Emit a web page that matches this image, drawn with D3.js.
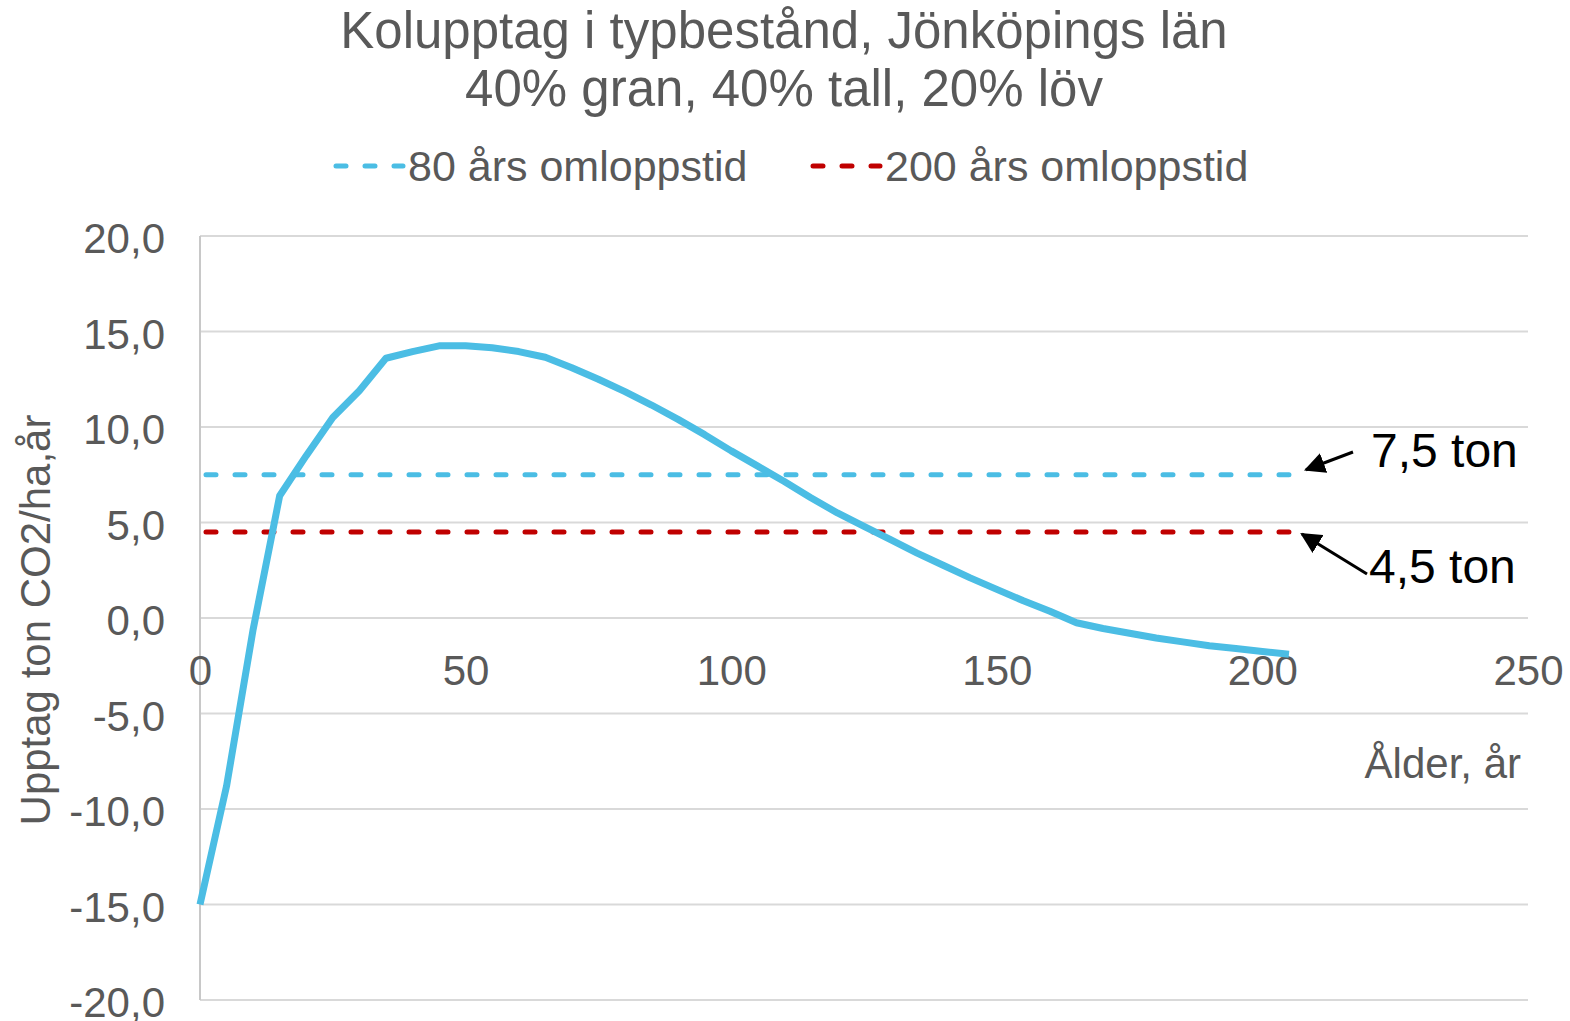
<!DOCTYPE html>
<html><head><meta charset="utf-8">
<script src="https://cdn.jsdelivr.net/npm/d3@7/dist/d3.min.js"></script>
<style>
html,body{margin:0;padding:0;background:#fff;}
svg{display:block;font-family:"Liberation Sans",Arial,sans-serif;}
</style></head>
<body>
<svg id="chart" width="1570" height="1021"></svg>
<script>
const titleLines = ["Kolupptag i typbestånd, Jönköpings län", "40% gran, 40% tall, 20% löv"];
const ages = [0,5,10,15,20,25,30,35,40,45,50,55,60,65,70,75,80,85,90,95,100,105,110,115,120,125,130,135,140,145,150,155,160,165,170,175,180,185,190,195,200,205];
const uptake = [-15.0,-8.8,-0.6,6.4,8.5,10.5,11.9,13.6,13.95,14.25,14.25,14.15,13.95,13.65,13.1,12.5,11.85,11.15,10.4,9.6,8.75,7.95,7.15,6.3,5.5,4.8,4.1,3.4,2.75,2.1,1.5,0.9,0.35,-0.25,-0.55,-0.8,-1.05,-1.25,-1.45,-1.6,-1.75,-1.9];
const refNames = ["80 års omloppstid", "200 års omloppstid"];
const refValues = [7.5, 4.5];
const refLabels = ["7,5 ton", "4,5 ton"];
const refRange = [0, 205];
const xTicks = [0,50,100,150,200,250];
const yTicks = [-20,-15,-10,-5,0,5,10,15,20];
const xTitle = "Ålder, år";
const yTitle = "Upptag ton CO2/ha,år";

const refColors = ["#4BBDE4", "#C00000"];
const lineColor = "#4BBDE4";
const textColor = "#595959";

const svg = d3.select("#chart");
const x = d3.scaleLinear().domain([0,250]).range([200,1528]);
const y = d3.scaleLinear().domain([-20,20]).range([1000,236]);
const loc = d3.formatLocale({decimal:",", thousands:" ", grouping:[3], currency:["",""], minus:"-"});
const fmt = loc.format(".1f");

svg.append("defs").append("marker").attr("id","arr").attr("viewBox","0 0 10 10")
  .attr("refX",9).attr("refY",5).attr("markerWidth",7).attr("markerHeight",7)
  .attr("markerUnits","strokeWidth").attr("orient","auto")
  .append("path").attr("d","M0,0 L10,5 L0,10 z").attr("fill","#000");

// title
svg.append("g").selectAll("text").data(titleLines).join("text")
  .attr("x",784).attr("y",(d,i)=>48+i*58).attr("text-anchor","middle")
  .attr("font-size",51).attr("fill",textColor).text(d=>d);

// legend
const legX = [331, 808];
const leg = svg.append("g").selectAll("g").data(refNames).join("g")
  .attr("transform",(d,i)=>`translate(${legX[i]},166)`);
leg.append("line").attr("x1",5).attr("x2",72).attr("y1",0).attr("y2",0)
  .attr("stroke",(d,i)=>refColors[i]).attr("stroke-width",5)
  .attr("stroke-linecap","round").attr("stroke-dasharray","10,19");
leg.append("text").attr("x",77).attr("y",15).attr("font-size",43).attr("fill",textColor).text(d=>d);

// gridlines
svg.append("g").selectAll("line").data(yTicks).join("line")
  .attr("x1",200).attr("x2",1528).attr("y1",d=>y(d)).attr("y2",d=>y(d))
  .attr("stroke","#d9d9d9").attr("stroke-width",2);
svg.append("line").attr("x1",200).attr("x2",200).attr("y1",236).attr("y2",1000)
  .attr("stroke","#c8c8c8").attr("stroke-width",2);

// y tick labels
const yAxis = d3.axisLeft(y).tickValues(yTicks).tickFormat(fmt).tickSize(0).tickPadding(35);
const gy = svg.append("g").attr("transform","translate(200,0)").call(yAxis);
gy.select(".domain").remove();
gy.selectAll("text").attr("font-size",42).attr("fill",textColor).attr("font-family","Liberation Sans, Arial, sans-serif").attr("dy","0.4em");

// x tick labels
const xAxis = d3.axisBottom(x).tickValues(xTicks).tickFormat(d3.format("d")).tickSize(0).tickPadding(0);
const gx = svg.append("g").attr("transform",`translate(0,${y(0)})`).call(xAxis);
gx.select(".domain").remove();
gx.selectAll("text").attr("font-size",42).attr("fill",textColor).attr("font-family","Liberation Sans, Arial, sans-serif").attr("dy","1.6em");

// axis titles
svg.append("text").attr("x",1521).attr("y",778).attr("text-anchor","end")
  .attr("font-size",42).attr("fill",textColor).text(xTitle);
svg.append("text").attr("transform","translate(50,620) rotate(-90)").attr("text-anchor","middle")
  .attr("font-size",42).attr("fill",textColor).text(yTitle);

// reference lines
svg.append("g").selectAll("line").data(refValues).join("line")
  .attr("x1",x(refRange[0])+6).attr("x2",x(refRange[1])).attr("y1",d=>y(d)).attr("y2",d=>y(d))
  .attr("stroke",(d,i)=>refColors[i]).attr("stroke-width",5)
  .attr("stroke-linecap","round").attr("stroke-dasharray","10,19");

// main curve
const line = d3.line().x(d=>x(d[0])).y(d=>y(d[1]));
svg.append("path").datum(ages.map((a,i)=>[a,uptake[i]]))
  .attr("d",line).attr("fill","none").attr("stroke",lineColor).attr("stroke-width",7)
  .attr("stroke-linejoin","round");

// annotations
const annStart = [[1353,452],[1367,574]];
const annEnd = [[x(refRange[1])+17, y(refValues[0])-5],[x(refRange[1])+13, y(refValues[1])+2]];
svg.append("g").selectAll("line").data(refValues).join("line")
  .attr("x1",(d,i)=>annStart[i][0]).attr("y1",(d,i)=>annStart[i][1])
  .attr("x2",(d,i)=>annEnd[i][0]).attr("y2",(d,i)=>annEnd[i][1])
  .attr("stroke","#000").attr("stroke-width",3).attr("marker-end","url(#arr)");
const annTextY = [467, 583];
svg.append("g").selectAll("text").data(refLabels).join("text")
  .attr("x",(d,i)=>i===0?1371:1369).attr("y",(d,i)=>annTextY[i])
  .attr("font-size",48).attr("fill","#000").text(d=>d);
</script>
</body></html>
